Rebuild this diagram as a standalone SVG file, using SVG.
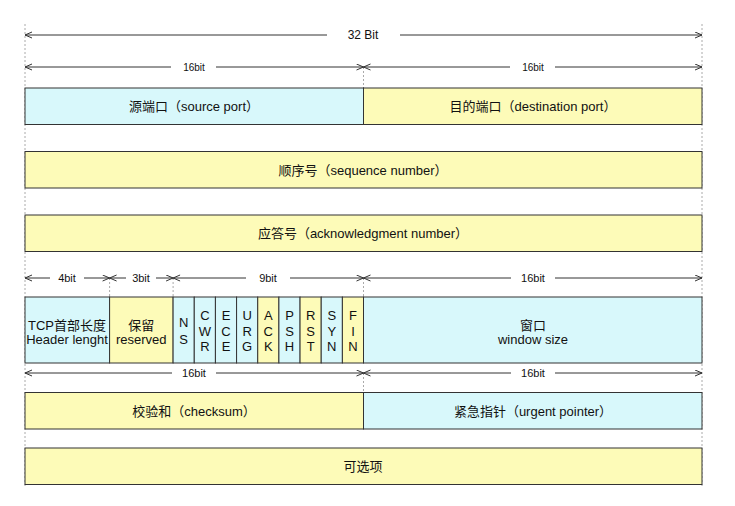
<svg xmlns="http://www.w3.org/2000/svg" width="735" height="506" viewBox="0 0 735 506">
<defs>
<marker id="ah" markerWidth="9" markerHeight="8" refX="7.5" refY="3.5" orient="auto-start-reverse" markerUnits="userSpaceOnUse">
<path d="M0.5,0.5 L7.5,3.5 L0.5,6.5" fill="none" stroke="#333" stroke-width="1"/>
</marker>
<style>
.c{fill:#d8f8fb;stroke:#333;stroke-width:1}
.y{fill:#fdfbb8;stroke:#333;stroke-width:1}
.t{font-family:"Liberation Sans","Noto Sans CJK SC",sans-serif;font-size:13px;fill:#111;text-anchor:middle}
.s{font-family:"Liberation Sans","Noto Sans CJK SC",sans-serif;font-size:10px;fill:#111;text-anchor:middle}
.m{font-family:"Liberation Sans","Noto Sans CJK SC",sans-serif;font-size:11px;fill:#111;text-anchor:middle}
.a{stroke:#333;stroke-width:1;fill:none;marker-start:url(#ah);marker-end:url(#ah)}
.d{stroke:#aaa;stroke-width:1;stroke-dasharray:2,2;fill:none}
.bg{fill:#fff}
</style>
</defs>
<rect width="735" height="506" fill="#fff"/>
<g id="guides">
<path class="d" d="M25,24V487M702,24V487M363.5,67V88M363.5,278V297M363.5,373V392M109.6,278V297M173.1,278V297"/>
</g>
<g id="connectors">
<path class="a" d="M25,35H702"/>
<rect class="bg" x="327" y="27" width="73" height="16"/>
<text class="m" x="363" y="39" style="font-size:12px">32 Bit</text>
<path class="a" d="M25,67H363.5"/>
<path class="a" d="M363.5,67H702"/>
<rect class="bg" x="171" y="60" width="45" height="14"/>
<text class="s" x="194" y="70.5">16bit</text>
<rect class="bg" x="510" y="60" width="45" height="14"/>
<text class="s" x="533" y="70.5">16bit</text>
<path class="a" d="M25,278H109.6"/>
<path class="a" d="M109.6,278H173.1"/>
<path class="a" d="M173.1,278H363.5"/>
<path class="a" d="M363.5,278H702"/>
<rect class="bg" x="50" y="271" width="34" height="14"/>
<text class="m" x="67" y="282">4bit</text>
<rect class="bg" x="126" y="271" width="30" height="14"/>
<text class="m" x="141" y="282">3bit</text>
<rect class="bg" x="246" y="271" width="44" height="14"/>
<text class="m" x="268" y="282">9bit</text>
<rect class="bg" x="511" y="271" width="44" height="14"/>
<text class="m" x="533" y="282">16bit</text>
<path class="a" d="M25,373H363.5"/>
<path class="a" d="M363.5,373H702"/>
<rect class="bg" x="172" y="366" width="44" height="14"/>
<text class="m" x="194" y="377">16bit</text>
<rect class="bg" x="511" y="366" width="44" height="14"/>
<text class="m" x="533" y="377">16bit</text>
</g>
<g id="source-port"><rect class="c" x="25" y="88" width="338.5" height="36.5"/><text class="t" x="194" y="111">源端口（source port）</text></g>
<g id="destination-port"><rect class="y" x="363.5" y="88" width="338.5" height="36.5"/><text class="t" x="533" y="111">目的端口（destination port）</text></g>
<g id="sequence-number"><rect class="y" x="25" y="151.5" width="677" height="36.5"/><text class="t" x="363" y="175">顺序号（sequence number）</text></g>
<g id="ack-number"><rect class="y" x="25" y="215" width="677" height="36.5"/><text class="t" x="363" y="238">应答号（acknowledgment number）</text></g>
<g id="header-length"><rect class="c" x="25" y="297" width="84.6" height="66"/><text class="t" x="67" y="329.5">TCP首部长度</text><text class="t" x="67" y="344">Header lenght</text></g>
<g id="reserved"><rect class="y" x="109.6" y="297" width="63.5" height="66"/><text class="t" x="141.3" y="329.5">保留</text><text class="t" x="141.3" y="344">reserved</text></g>
<g id="flag-ns"><rect class="c" x="173.1" y="297" width="21.16" height="66"/><text class="t" x="183.7" y="327">N</text><text class="t" x="183.7" y="343.5">S</text></g>
<g id="flag-cwr"><rect class="c" x="194.26" y="297" width="21.16" height="66"/><text class="t" x="204.84" y="320">C</text><text class="t" x="204.84" y="335.5">W</text><text class="t" x="204.84" y="351">R</text></g>
<g id="flag-ece"><rect class="c" x="215.42" y="297" width="21.16" height="66"/><text class="t" x="226" y="320">E</text><text class="t" x="226" y="335.5">C</text><text class="t" x="226" y="351">E</text></g>
<g id="flag-urg"><rect class="c" x="236.58" y="297" width="21.16" height="66"/><text class="t" x="247.16" y="320">U</text><text class="t" x="247.16" y="335.5">R</text><text class="t" x="247.16" y="351">G</text></g>
<g id="flag-ack"><rect class="y" x="257.74" y="297" width="21.16" height="66"/><text class="t" x="268.32" y="320">A</text><text class="t" x="268.32" y="335.5">C</text><text class="t" x="268.32" y="351">K</text></g>
<g id="flag-psh"><rect class="c" x="278.9" y="297" width="21.16" height="66"/><text class="t" x="289.48" y="320">P</text><text class="t" x="289.48" y="335.5">S</text><text class="t" x="289.48" y="351">H</text></g>
<g id="flag-rst"><rect class="y" x="300.06" y="297" width="21.16" height="66"/><text class="t" x="310.64" y="320">R</text><text class="t" x="310.64" y="335.5">S</text><text class="t" x="310.64" y="351">T</text></g>
<g id="flag-syn"><rect class="c" x="321.22" y="297" width="21.16" height="66"/><text class="t" x="331.8" y="320">S</text><text class="t" x="331.8" y="335.5">Y</text><text class="t" x="331.8" y="351">N</text></g>
<g id="flag-fin"><rect class="y" x="342.38" y="297" width="21.12" height="66"/><text class="t" x="352.94" y="320">F</text><text class="t" x="352.94" y="335.5">I</text><text class="t" x="352.94" y="351">N</text></g>
<g id="window-size"><rect class="c" x="363.5" y="297" width="338.5" height="66"/><text class="t" x="533" y="329.5">窗口</text><text class="t" x="533" y="344">window size</text></g>
<g id="checksum"><rect class="y" x="25" y="392.5" width="338.5" height="36.5"/><text class="t" x="194" y="415.5">校验和（checksum）</text></g>
<g id="urgent-pointer"><rect class="c" x="363.5" y="392.5" width="338.5" height="36.5"/><text class="t" x="533" y="415.5">紧急指针（urgent pointer）</text></g>
<g id="options"><rect class="y" x="25" y="448" width="677" height="36.5"/><text class="t" x="363" y="471">可选项</text></g>
</svg>
